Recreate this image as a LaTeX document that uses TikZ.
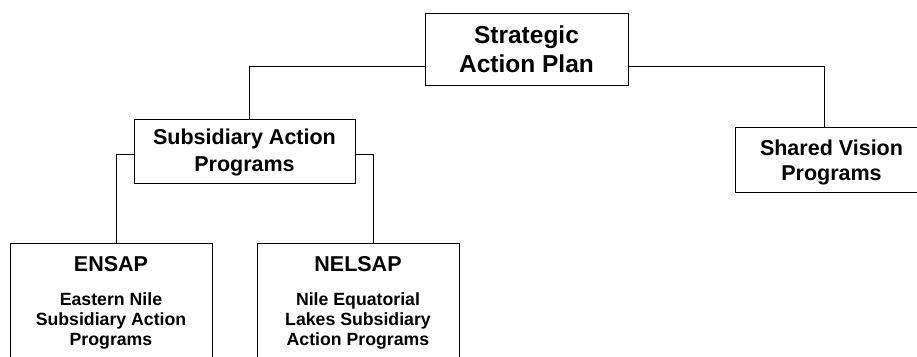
\documentclass[tikz,border=0pt]{standalone}
\usepackage{fontspec}
\setmainfont{Liberation Sans}
\begin{document}
\begin{tikzpicture}[x=1pt,y=-1pt,
  box/.style={draw=black, line width=1pt, fill=white, rectangle, align=center, inner sep=0pt},
  bigtxt/.style={font=\fontsize{24.5}{29.5}\selectfont\bfseries},
  midtxt/.style={font=\fontsize{21.5}{26.5}\selectfont\bfseries},
  smalltxt/.style={font=\fontsize{17.7}{20.3}\selectfont\bfseries},
  conn/.style={draw=black, line width=1pt}]
\useasboundingbox (0,0) rectangle (917,356);
\clip (0,0) rectangle (917,356);

\node[box, bigtxt, minimum width=203pt, minimum height=72pt] (sap) at (526.5,49) {Strategic\\Action Plan};
\node[box, font=\fontsize{21.5}{27}\selectfont\bfseries, minimum width=221pt, minimum height=64pt] (sub) at (244.5,151) {\rule{0pt}{19.5pt}Subsidiary Action\\Programs};
\node[box, font=\fontsize{21.5}{25}\selectfont\bfseries, minimum width=193pt, minimum height=65pt] (sv) at (831.5,159.5) {\rule{0pt}{22.4pt}Shared Vision\\Programs};

\node[box, minimum width=202pt, minimum height=140pt, anchor=north] (ens) at (111,243) {};
\node[midtxt, anchor=base, inner sep=0pt] (ensT) at (111,271) {ENSAP};
\node[smalltxt, align=center, anchor=north, inner sep=0pt] (ensB) at (111,292.3) {Eastern Nile\\Subsidiary Action\\Programs};

\node[box, minimum width=202pt, minimum height=140pt, anchor=north] (nel) at (358,243) {};
\node[midtxt, anchor=base, inner sep=0pt] (nelT) at (358,271) {NELSAP};
\node[smalltxt, align=center, anchor=north, inner sep=0pt] (nelB) at (358,292.3) {Nile Equatorial\\Lakes Subsidiary\\Action Programs};

\draw[conn] ([yshift=-17pt]sap.west) -| ([xshift=4.5pt]sub.north);
\draw[conn] ([yshift=-17pt]sap.east) -| ([xshift=-7.5pt]sv.north);
\draw[conn] ([yshift=-3pt]sub.west) -| ([xshift=5pt]ens.north);
\draw[conn] ([yshift=-3pt]sub.east) -| ([xshift=15pt]nel.north);
\end{tikzpicture}
\end{document}
